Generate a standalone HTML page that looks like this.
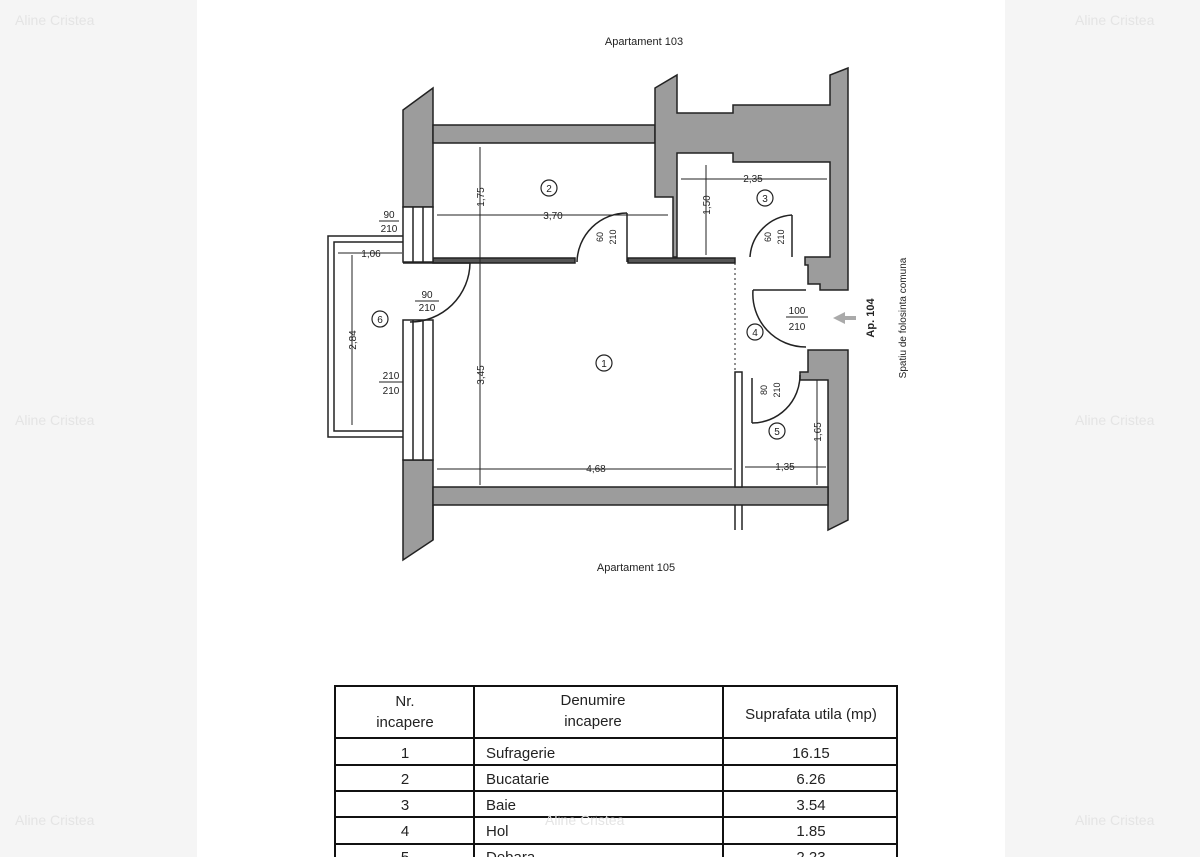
<!DOCTYPE html>
<html><head><meta charset="utf-8"><style>
html,body{margin:0;padding:0;background:#f5f5f5;}
body{width:1200px;height:857px;position:relative;overflow:hidden;font-family:"Liberation Sans",sans-serif;}
.page{position:absolute;left:197px;top:0;width:808px;height:857px;background:#fff;}
svg{position:absolute;left:0;top:0;}
</style></head><body>
<div class="page"></div>
<svg width="1200" height="857" viewBox="0 0 1200 857" font-family="Liberation Sans, sans-serif">
<g fill="#9c9c9c" stroke="#222" stroke-width="1.5">
<!-- left wall upper -->
<polygon points="403,110 433,88 433,207 403,207"/>
<!-- left wall lower -->
<polygon points="403,460 433,460 433,540 403,560"/>
<!-- top wall -->
<rect x="433" y="125" width="222" height="18"/>
<!-- vertical wall between 2 and 3 + top block -->
<polygon points="655,88 677,75 677,113 733,113 733,105 830,105 830,75 848,68 848,290 820,290 820,284 808,284 808,265 805,265 805,257 830,257 830,162 733,162 733,153 677,153 677,257 673,257 673,197 655,197"/>
<!-- right wall lower -->
<polygon points="808,350 848,350 848,520 828,530 828,380 800,380 800,372 808,372"/>
<!-- bottom wall -->
<rect x="433" y="487" width="395" height="18"/>
</g>
<g fill="none" stroke="#222" stroke-width="1.5">
<!-- lines below bottom wall -->
<line x1="433" y1="505" x2="433" y2="540"/>
<line x1="735" y1="505" x2="735" y2="530"/>
<line x1="742" y1="505" x2="742" y2="530"/>
<!-- partitions -->
<rect x="433" y="258" width="142" height="5" fill="#555"/>
<rect x="628" y="258" width="107" height="5" fill="#555"/>
<rect x="735" y="372" width="7" height="115" fill="#fff"/>
<line x1="735" y1="263" x2="735" y2="372" stroke-dasharray="2,3" stroke-width="1"/>
<!-- windows -->
<rect x="403" y="207" width="30" height="55" fill="#fff"/>
<line x1="413" y1="207" x2="413" y2="262"/><line x1="423" y1="207" x2="423" y2="262"/>
<rect x="403" y="320" width="30" height="140" fill="#fff"/>
<line x1="413" y1="320" x2="413" y2="460"/><line x1="423" y1="320" x2="423" y2="460"/>
<!-- balcony -->
<polyline points="403,236 328,236 328,437 403,437"/>
<polyline points="403,242 334,242 334,431 403,431"/>
<!-- doors -->
<path d="M470,263 A60,60 0 0 1 410,322"/>
<line x1="403" y1="263" x2="470" y2="263"/>
<line x1="627" y1="213" x2="627" y2="262"/>
<path d="M627,213 A50,50 0 0 0 577,262"/>
<line x1="792" y1="215" x2="792" y2="257"/>
<path d="M792,215 A45,45 0 0 0 750,257"/>
<line x1="753" y1="290" x2="806" y2="290"/>
<path d="M753,290 A53,53 0 0 0 806,347"/>
<path d="M800,375 A48,48 0 0 1 752,423"/>
<line x1="752" y1="378" x2="752" y2="423"/>
</g>
<!-- dimension lines -->
<g stroke="#222" stroke-width="1" fill="none">
<line x1="437" y1="215" x2="668" y2="215"/>
<line x1="480" y1="147" x2="480" y2="485"/>
<line x1="681" y1="179" x2="827" y2="179"/>
<line x1="706" y1="165" x2="706" y2="255"/>
<line x1="437" y1="469" x2="732" y2="469"/>
<line x1="745" y1="467" x2="826" y2="467"/>
<line x1="817" y1="380" x2="817" y2="485"/>
<line x1="338" y1="253" x2="402" y2="253"/>
<line x1="352" y1="255" x2="352" y2="425"/>
</g>
<g font-size="10" fill="#222" text-anchor="middle">
<text x="553" y="219" fill="#222" stroke="#fff" stroke-width="0">3,70</text>
<text x="753" y="182">2,35</text>
<text x="596" y="472">4,68</text>
<text x="785" y="470">1,35</text>
<text x="371" y="257">1,06</text>
<text transform="translate(484,197) rotate(-90)">1,75</text>
<text transform="translate(710,205) rotate(-90)">1,50</text>
<text transform="translate(484,375) rotate(-90)">3,45</text>
<text transform="translate(821,432) rotate(-90)">1,65</text>
<text transform="translate(356,340) rotate(-90)">2,84</text>
<text x="389" y="218">90</text><line x1="379" y1="221" x2="399" y2="221" stroke="#222"/><text x="389" y="232">210</text>
<text x="427" y="298">90</text><line x1="415" y1="301" x2="439" y2="301" stroke="#222"/><text x="427" y="311">210</text>
<text x="391" y="379">210</text><line x1="379" y1="382" x2="403" y2="382" stroke="#222"/><text x="391" y="394">210</text>
<text x="797" y="314">100</text><line x1="786" y1="317" x2="808" y2="317" stroke="#222"/><text x="797" y="330">210</text>
<text transform="translate(603,237) rotate(-90)" font-size="9">60</text><text transform="translate(616,237) rotate(-90)" font-size="9">210</text>
<text transform="translate(771,237) rotate(-90)" font-size="9">60</text><text transform="translate(784,237) rotate(-90)" font-size="9">210</text>
<text transform="translate(767,390) rotate(-90)" font-size="9">80</text><text transform="translate(780,390) rotate(-90)" font-size="9">210</text>
</g>
<g fill="none" stroke="#222" stroke-width="1.2">
<circle cx="549" cy="188" r="8"/><circle cx="765" cy="198" r="8"/><circle cx="604" cy="363" r="8"/>
<circle cx="755" cy="332" r="8"/><circle cx="777" cy="431" r="8"/><circle cx="380" cy="319" r="8"/>
</g>
<g font-size="10" fill="#222" text-anchor="middle">
<text x="549" y="192">2</text><text x="765" y="202">3</text><text x="604" y="367">1</text>
<text x="755" y="336">4</text><text x="777" y="435">5</text><text x="380" y="323">6</text>
<text x="644" y="45" font-size="11">Apartament 103</text>
<text x="636" y="571" font-size="11">Apartament 105</text>
<text transform="translate(874,318) rotate(-90)" font-size="11" font-weight="bold">Ap. 104</text>
<text transform="translate(906,318) rotate(-90)" font-size="10">Spatiu de folosinta comuna</text>
</g>
<path d="M833,318 L845,312 L845,316 L856,316 L856,320 L845,320 L845,324 Z" fill="#aaa"/>
<!-- table -->
<g stroke="#111" stroke-width="2" fill="none">
<rect x="335" y="686" width="562" height="180"/>
<line x1="474" y1="686" x2="474" y2="866"/>
<line x1="723" y1="686" x2="723" y2="866"/>
<line x1="335" y1="738" x2="897" y2="738"/>
<line x1="335" y1="765" x2="897" y2="765"/>
<line x1="335" y1="791" x2="897" y2="791"/>
<line x1="335" y1="817" x2="897" y2="817"/>
<line x1="335" y1="844" x2="897" y2="844"/>
</g>
<g font-size="15" fill="#222">
<text x="405" y="706" text-anchor="middle">Nr.</text>
<text x="405" y="727" text-anchor="middle">incapere</text>
<text x="593" y="705" text-anchor="middle">Denumire</text>
<text x="593" y="726" text-anchor="middle">incapere</text>
<text x="811" y="719" text-anchor="middle">Suprafata utila (mp)</text>
<text x="405" y="758" text-anchor="middle">1</text><text x="486" y="758">Sufragerie</text><text x="811" y="758" text-anchor="middle">16.15</text>
<text x="405" y="784" text-anchor="middle">2</text><text x="486" y="784">Bucatarie</text><text x="811" y="784" text-anchor="middle">6.26</text>
<text x="405" y="810" text-anchor="middle">3</text><text x="486" y="810">Baie</text><text x="811" y="810" text-anchor="middle">3.54</text>
<text x="405" y="836" text-anchor="middle">4</text><text x="486" y="836">Hol</text><text x="811" y="836" text-anchor="middle">1.85</text>
<text x="405" y="862" text-anchor="middle">5</text><text x="486" y="862">Debara</text><text x="811" y="862" text-anchor="middle">2.23</text>
</g>
<g font-size="14" fill="#e4e4e4">
<text x="15" y="25">Aline Cristea</text><text x="1075" y="25">Aline Cristea</text>
<text x="15" y="425">Aline Cristea</text><text x="1075" y="425">Aline Cristea</text>
<text x="15" y="825">Aline Cristea</text><text x="545" y="825">Aline Cristea</text><text x="1075" y="825">Aline Cristea</text>
</g>
</svg>
</body></html>
